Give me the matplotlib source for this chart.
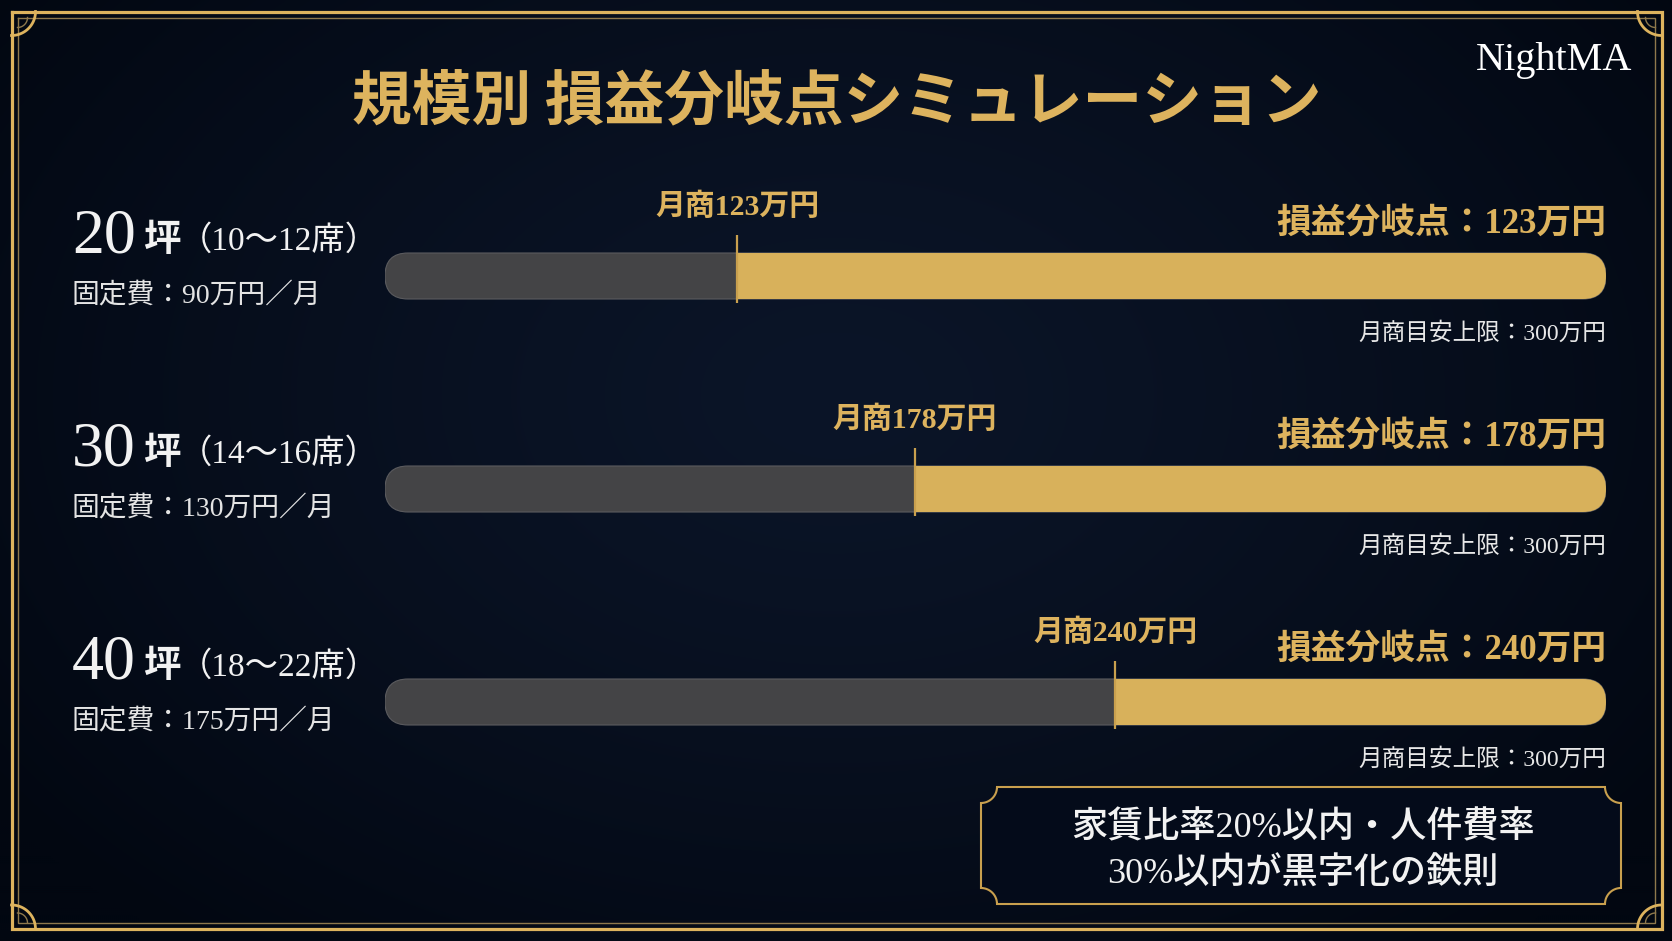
import numpy as np
import matplotlib
matplotlib.use("Agg")
import matplotlib.pyplot as plt
from matplotlib.patches import FancyBboxPatch, Polygon
from matplotlib.transforms import IdentityTransform, blended_transform_factory

# ---------------- data ----------------
title = "規模別 損益分岐点シミュレーション"
brand = "NightMA"
floor_sizes = ["20", "30", "40"]
seat_ranges = ["（10～12席）", "（14～16席）", "（18～22席）"]
fixed_costs = [90, 130, 175]
breakeven_sales = [123, 178, 240]
sales_upper_limit = 300
note_lines = ["家賃比率20%以内・人件費率", "30%以内が黒字化の鉄則"]

# ---------------- style / layout ----------------
W, H, DPI = 1672, 941, 100
GOLD = "#DDB35E"
GOLD_BAR = "#D8B15B"
GOLD_LINE = "#C9A04E"
FRAME_IN = "#8E784C"
TRACK = "#444446"
WHITE = "#F2F2F2"
JP = ["Noto Sans CJK JP"]
SERIF_JP = ["Liberation Serif", "Noto Sans CJK JP"]

fig = plt.figure(figsize=(W / DPI, H / DPI), dpi=DPI)

# background layer in pixel coordinates
bg = fig.add_axes([0, 0, 1, 1])
yy, xx = np.mgrid[0:H:2, 0:W:2]
rr = np.sqrt(((xx - W * 0.5) / (W * 0.62)) ** 2 + ((yy - H * 0.42) / (H * 0.75)) ** 2)
t = np.clip(rr, 0, 1)[..., None] ** 1.3
c_in = np.array([11, 21, 40]) / 255
c_out = np.array([2, 7, 17]) / 255
bg.imshow(c_in * (1 - t) + c_out * t, extent=[0, W, H, 0], aspect="auto",
          interpolation="bilinear", zorder=0)
bg.set_xlim(0, W)
bg.set_ylim(H, 0)
bg.axis("off")


def frame(x0, y0, x1, y1, **kw):
    bg.plot([x0, x1, x1, x0, x0], [y0, y0, y1, y1, y0],
            solid_joinstyle="miter", **kw)


frame(11.5, 11.5, 1661.5, 929, color=GOLD, lw=2.3)
frame(17.5, 17.5, 1655, 922.5, color=FRAME_IN, lw=1.0)
th = np.linspace(0, np.pi / 2, 50)
for cx, cy, sx, sy in [(11.5, 11.5, 1, 1), (1661.5, 11.5, -1, 1),
                       (11.5, 929, 1, -1), (1661.5, 929, -1, -1)]:
    bg.plot(cx + sx * 24 * np.cos(th), cy + sy * 24 * np.sin(th), color=GOLD, lw=2.0)
    bg.plot(cx + sx * (6 + 10 * np.cos(th)), cy + sy * (6 + 10 * np.sin(th)),
            color=FRAME_IN, lw=1.0)

bg.text(837, 119, title, ha="center", va="baseline", fontsize=43,
        fontweight="bold", color=GOLD, family=JP)
bg.text(1632, 70, brand, ha="right", va="baseline", fontsize=29,
        color="white", family=["Liberation Serif"])

# note box with notched corners
bx0, by0, bx1, by1, rc = 981, 787, 1621, 904, 16


def corner(cx, cy, a0, a1):
    a = np.linspace(a0, a1, 20)
    return np.column_stack([cx + rc * np.cos(a), cy + rc * np.sin(a)])


pts = np.vstack([corner(bx1, by0, np.pi, np.pi / 2),
                 corner(bx1, by1, 1.5 * np.pi, np.pi),
                 corner(bx0, by1, 2 * np.pi, 1.5 * np.pi),
                 corner(bx0, by0, np.pi / 2, 0)])
bg.add_patch(Polygon(pts, closed=True, fc="#040B1A", ec=GOLD_LINE, lw=1.5, zorder=2))
for k, line in enumerate(note_lines):
    bg.text(1303, 837 + 47 * k, line, ha="center", va="baseline", fontsize=26,
            color=WHITE, family=SERIF_JP, fontweight="medium", zorder=3)

# ---------------- gauges ----------------
GX0, GX1, GY0, GY1 = 385, 1606, 160, 780
ROW0, ROW_PX = 276, 213
ax = fig.add_axes([GX0 / W, 1 - GY1 / H, (GX1 - GX0) / W, (GY1 - GY0) / H])
ax.axis("off")
LO, HI = 14, 392
ax.set_xlim(LO, HI)
ax.set_ylim((GY1 - ROW0) / ROW_PX, (GY0 - ROW0) / ROW_PX)
BAR_H = 46 / ROW_PX


def px(p):
    return p / ROW_PX


lab = blended_transform_factory(fig.transFigure, ax.transData)

for i, v in enumerate(breakeven_sales):
    (dx0, dy0) = ax.transData.transform((LO, i + BAR_H / 2))
    (dx1, dy1) = ax.transData.transform((HI, i - BAR_H / 2))
    hh = dy1 - dy0
    track = FancyBboxPatch((dx0, dy0), dx1 - dx0, hh,
                           boxstyle=f"round,pad=0,rounding_size={hh / 2}",
                           transform=IdentityTransform(), fc=TRACK,
                           ec="#5B5B5E", lw=0.8, zorder=2)
    ax.add_artist(track)
    bars = ax.barh(i, HI - v, left=v, height=BAR_H, color=GOLD_BAR, zorder=3)
    for b in bars:
        b.set_clip_path(track)
    ax.plot([v, v], [i - px(41), i + px(27)], color=GOLD_LINE, lw=1.6,
            zorder=4, solid_capstyle="butt")

    ax.text(v, i - px(61), f"月商{v}万円", ha="center", va="baseline",
            fontsize=21.5, fontweight="bold", color=GOLD, family=SERIF_JP)
    ax.text(HI, i - px(43), f"損益分岐点：{v}万円", ha="right", va="baseline",
            fontsize=25, fontweight="bold", color=GOLD, family=SERIF_JP)
    ax.text(HI, i + px(64), f"月商目安上限：{sales_upper_limit}万円", ha="right",
            va="baseline", fontsize=17, color="#E8E8E8", family=SERIF_JP)

    ax.text(72 / W, i - px(23), floor_sizes[i], transform=lab, fontsize=46,
            family=["Liberation Serif"], color=WHITE, va="baseline")
    ax.text(143 / W, i - px(25), "坪", transform=lab, fontsize=27, family=JP,
            color=WHITE, fontweight="bold", va="baseline")
    ax.text(179 / W, i - px(26), seat_ranges[i], transform=lab, fontsize=24,
            family=SERIF_JP, color=WHITE, va="baseline")
    ax.text(71 / W, i + px(27), f"固定費：{fixed_costs[i]}万円／月", transform=lab,
            fontsize=20, family=SERIF_JP, color="#E4E4E4", va="baseline")

ax.set_xlim(LO, HI)
ax.set_ylim((GY1 - ROW0) / ROW_PX, (GY0 - ROW0) / ROW_PX)

fig.savefig("out.png", dpi=DPI)
